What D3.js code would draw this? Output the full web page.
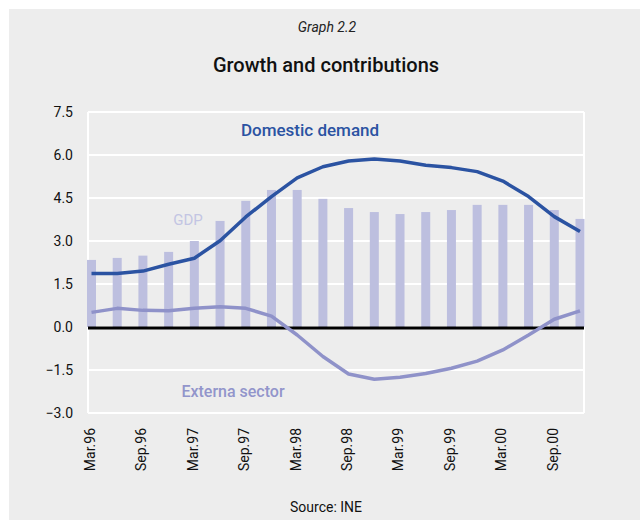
<!DOCTYPE html>
<html>
<head>
<meta charset="utf-8">
<script src="https://cdn.jsdelivr.net/npm/d3@7/dist/d3.min.js"></script>
<style>
  html, body { margin: 0; padding: 0; background: #fff; }
  svg text { font-family: "Liberation Sans Narrow", "Roboto", "DejaVu Sans", sans-serif; }
</style>
</head>
<body>
<svg id="chart" width="640" height="520"></svg>
<script>
// Quarterly periods, Mar.96 to Dec.00
const quarters = [
  "Mar.96","Jun.96","Sep.96","Dec.96",
  "Mar.97","Jun.97","Sep.97","Dec.97",
  "Mar.98","Jun.98","Sep.98","Dec.98",
  "Mar.99","Jun.99","Sep.99","Dec.99",
  "Mar.00","Jun.00","Sep.00","Dec.00"
];
// Quarters that carry an axis label
const xTickLabels = ["Mar.96","Sep.96","Mar.97","Sep.97","Mar.98","Sep.98","Mar.99","Sep.99","Mar.00","Sep.00"];
const yTicks = [-3.0, -1.5, 0.0, 1.5, 3.0, 4.5, 6.0, 7.5];

// GDP growth (bars) and contributions (lines), %
const gdp = [2.34, 2.41, 2.49, 2.62, 3.00, 3.70, 4.40, 4.78, 4.78, 4.47,
             4.15, 4.01, 3.94, 4.01, 4.08, 4.26, 4.26, 4.26, 4.08, 3.77];
const domesticDemand = [1.87, 1.87, 1.95, 2.19, 2.40, 3.01, 3.84, 4.55, 5.20, 5.59,
                        5.79, 5.86, 5.79, 5.64, 5.56, 5.42, 5.09, 4.55, 3.85, 3.33];
const externalSector = [0.51, 0.65, 0.58, 0.57, 0.65, 0.71, 0.65, 0.38, -0.28, -1.03,
                        -1.64, -1.82, -1.75, -1.62, -1.44, -1.19, -0.80, -0.28, 0.27, 0.56];

const svg = d3.select("#chart");
const plot = { left: 88, right: 584, top: 112, bottom: 413 };

// Background panel
svg.append("rect").attr("x", 9).attr("y", 9).attr("width", 640 - 9).attr("height", 520 - 9)
  .attr("fill", "#ededed");

// Titles
svg.append("text").attr("x", 327).attr("y", 32).attr("text-anchor", "middle")
  .attr("font-size", 14).attr("font-style", "italic").attr("fill", "#222").text("Graph 2.2");
svg.append("text").attr("x", 326).attr("y", 72).attr("text-anchor", "middle")
  .attr("font-size", 20).attr("font-weight", 500).attr("fill", "#111").text("Growth and contributions");

const x = d3.scalePoint().domain(quarters).range([91.5, 580]);
const y = d3.scaleLinear().domain([-3, 7.5]).range([plot.bottom, plot.top]);

// Plot frame and horizontal grid
const g = svg.append("g");
g.selectAll("line.grid").data(yTicks).join("line").attr("class", "grid")
  .attr("x1", plot.left).attr("x2", plot.right)
  .attr("y1", d => y(d)).attr("y2", d => y(d))
  .attr("stroke", "#ffffff").attr("stroke-width", 2);
g.append("line").attr("x1", plot.left).attr("x2", plot.left).attr("y1", plot.top).attr("y2", plot.bottom)
  .attr("stroke", "#fff").attr("stroke-width", 2);
g.append("line").attr("x1", plot.right).attr("x2", plot.right).attr("y1", plot.top).attr("y2", plot.bottom)
  .attr("stroke", "#fff").attr("stroke-width", 2);

// GDP bars
const barW = 9;
g.selectAll("rect.bar").data(gdp).join("rect").attr("class", "bar")
  .attr("x", (d, i) => x(quarters[i]) - barW / 2)
  .attr("width", barW)
  .attr("y", d => y(Math.max(0, d)))
  .attr("height", d => Math.abs(y(d) - y(0)))
  .attr("fill", "#bdbfdf");

// Zero line
g.append("line").attr("x1", plot.left).attr("x2", plot.right)
  .attr("y1", y(0) + 1).attr("y2", y(0) + 1)
  .attr("stroke", "#000").attr("stroke-width", 3);

// Contribution lines
const line = d3.line().x((d, i) => x(quarters[i])).y(d => y(d));
g.append("path").datum(externalSector).attr("d", line)
  .attr("fill", "none").attr("stroke", "#8f92c9").attr("stroke-width", 3.5)
  .attr("stroke-linejoin", "round");
g.append("path").datum(domesticDemand).attr("d", line)
  .attr("fill", "none").attr("stroke", "#2b53a2").attr("stroke-width", 3.5)
  .attr("stroke-linejoin", "round");

// Y axis labels
const yAxis = d3.axisLeft(y).tickValues(yTicks).tickFormat(d3.format(".1f")).tickSize(0).tickPadding(0);
svg.append("g").attr("transform", `translate(73,0)`).call(yAxis)
  .call(s => s.select(".domain").remove())
  .call(s => s.selectAll("text").attr("font-size", 14).attr("fill", "#111")
    .attr("font-family", null));

// X axis labels (rotated)
const xAxis = d3.axisBottom(x).tickValues(xTickLabels).tickSize(0).tickPadding(0);
svg.append("g").attr("transform", `translate(-2,${plot.bottom})`).call(xAxis)
  .call(s => s.select(".domain").remove())
  .call(s => s.selectAll("text")
    .attr("font-size", 14).attr("fill", "#111").attr("font-family", null)
    .attr("transform", "rotate(-90)")
    .attr("text-anchor", "end")
    .attr("x", -15).attr("y", 0).attr("dy", "0.35em"));

// Series labels
svg.append("text").attr("x", 310).attr("y", 136).attr("text-anchor", "middle")
  .attr("font-size", 17).attr("font-weight", 500).attr("fill", "#2b53a2").text("Domestic demand");
svg.append("text").attr("x", 188).attr("y", 225).attr("text-anchor", "middle")
  .attr("font-size", 15).attr("fill", "#c3c5e3").text("GDP");
svg.append("text").attr("x", 233).attr("y", 397).attr("text-anchor", "middle")
  .attr("font-size", 16).attr("font-weight", 500).attr("fill", "#9295cb").text("Externa sector");

// Source note
svg.append("text").attr("x", 326).attr("y", 512).attr("text-anchor", "middle")
  .attr("font-size", 14).attr("fill", "#111").text("Source: INE");
</script>
</body>
</html>
